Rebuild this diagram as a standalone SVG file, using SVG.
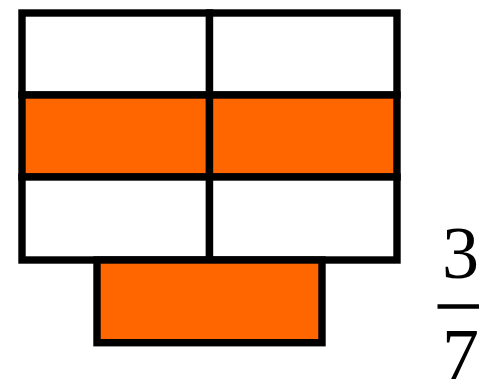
<svg xmlns="http://www.w3.org/2000/svg" width="479" height="379" viewBox="0 0 479 379">
<style>
.c{stroke:#000;stroke-width:7.4;}
.w{fill:#fff;}
.o{fill:#ff6600;}
text{font-family:"Times New Roman","Liberation Serif",serif;font-size:74px;fill:#000;text-anchor:middle;}
</style>
<rect width="479" height="379" fill="#fff"/>
<g id="cell-r1c1"><rect class="c w" x="22" y="13" width="187.5" height="82"/></g>
<g id="cell-r1c2"><rect class="c w" x="209.5" y="13" width="187.5" height="82"/></g>
<g id="cell-r2c1"><rect class="c o" x="22" y="95" width="187.5" height="82"/></g>
<g id="cell-r2c2"><rect class="c o" x="209.5" y="95" width="187.5" height="82"/></g>
<g id="cell-r3c1"><rect class="c w" x="22" y="177" width="187.5" height="83"/></g>
<g id="cell-r3c2"><rect class="c w" x="209.5" y="177" width="187.5" height="83"/></g>
<g id="cell-bottom"><rect class="c o" x="97" y="260" width="225" height="82.7"/></g>
<g id="fraction">
<text x="460.5" y="277.5">3</text>
<line x1="437.5" y1="306.5" x2="479" y2="306.5" stroke="#000" stroke-width="4.3"/>
<text x="460.5" y="380">7</text>
</g>
</svg>
